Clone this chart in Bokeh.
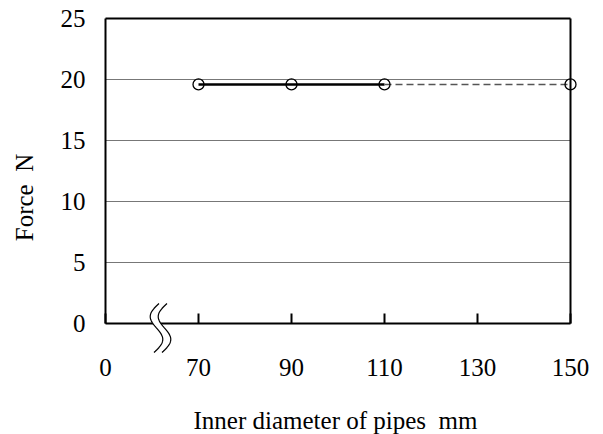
import numpy as np
from bokeh.plotting import figure
from bokeh.models import LinearAxis, FixedTicker, Range1d, Label
from bokeh.embed import file_html
from bokeh.resources import INLINE

# ---- data ----
diameters = [70, 90, 110, 150]
force = [19.6, 19.6, 19.6, 19.6]
x_tick_values = [50, 70, 90, 110, 130, 150]
x_tick_labels = ["0", "70", "90", "110", "130", "150"]
y_tick_values = [0, 5, 10, 15, 20, 25]
x_title = "Inner diameter of pipes\u00a0\u00a0mm"
y_title = "Force\u00a0\u00a0N"

FONT = "Liberation Serif"
FS = "25px"

# ---- layout (pixels) ----
W, H = 603, 434
L, R, T, B = 105, 570, 18, 323           # plot box
XMIN, XMAX, YMIN, YMAX = 50, 150, 0, 25
kx = (R - L) / (XMAX - XMIN)
ky = (B - T) / (YMAX - YMIN)
x0 = XMIN - L / kx
x1 = x0 + W / kx
y1 = YMAX + T / ky
y0 = y1 - H / ky

def dx(px):
    return x0 + px / kx

def dy(py):
    return y1 - py / ky

p = figure(width=W, height=H, output_backend="svg", toolbar_location=None,
           x_range=Range1d(x0, x1), y_range=Range1d(y0, y1),
           min_border=0, x_axis_location=None, y_axis_location=None)
p.outline_line_color = None
p.background_fill_color = "white"
p.border_fill_color = "white"
p.xgrid.visible = False
p.ygrid.visible = False

# horizontal grid lines inside the box
grid_vals = y_tick_values[1:-1]
gr = p.segment(x0=[XMIN] * len(grid_vals), x1=[XMAX] * len(grid_vals),
               y0=grid_vals, y1=grid_vals, line_color="#777777", line_width=1)
gr.level = "underlay"

# bottom axis
xa = LinearAxis(ticker=FixedTicker(ticks=x_tick_values), fixed_location=YMIN,
                bounds=(XMIN, XMAX),
                major_label_overrides={v: l for v, l in zip(x_tick_values, x_tick_labels)})
xa.axis_line_width = 2
xa.axis_line_color = "black"
xa.major_tick_in = 10
xa.major_tick_out = 0
xa.major_tick_line_width = 2
xa.minor_tick_line_color = None
xa.major_label_standoff = 35
xa.major_label_text_font = FONT
xa.major_label_text_font_size = FS
xa.major_label_text_color = "black"
p.add_layout(xa, "below")

# left axis
ya = LinearAxis(ticker=FixedTicker(ticks=y_tick_values), fixed_location=XMIN,
                bounds=(YMIN, YMAX))
ya.axis_line_width = 2
ya.axis_line_color = "black"
ya.major_tick_in = 0
ya.major_tick_out = 0
ya.minor_tick_line_color = None
ya.major_label_standoff = 20
ya.major_label_text_font = FONT
ya.major_label_text_font_size = FS
ya.major_label_text_color = "black"
p.add_layout(ya, "left")

# right & top frame lines
for loc, fl, bd in (("right", XMAX, (YMIN, YMAX)), ("above", YMAX, (XMIN, XMAX))):
    ax = LinearAxis(ticker=FixedTicker(ticks=[]), fixed_location=fl, bounds=bd)
    ax.axis_line_width = 2
    ax.axis_line_color = "black"
    ax.major_tick_line_color = None
    ax.minor_tick_line_color = None
    ax.major_label_text_font_size = "0px"
    ax.major_label_standoff = 0
    p.add_layout(ax, loc)

# data lines
p.line(diameters[:3], force[:3], line_color="black", line_width=2.5)
p.line(diameters[2:], force[2:], line_color="#555555", line_width=1.5, line_dash="7 4")
p.scatter(diameters, force, marker="circle", size=11, fill_color=None,
          line_color="black", line_width=1.3)

# axis break symbol (decoration)
t = np.linspace(0, 1, 40)
sy = 303 + 49 * t
sx = 156 - 7.5 * np.sin(2 * np.pi * t) + 5 * (0.5 - t)
bx1, by1 = list(dx(sx)), list(dy(sy))
bx2, by2 = list(dx(sx + 8)), list(dy(sy))
gap = p.patch(bx1 + bx2[::-1], by1 + by2[::-1], fill_color="white", line_color=None)
gap.level = "overlay"
for xs, ys in ((bx1, by1), (bx2, by2)):
    r = p.line(xs, ys, line_color="black", line_width=1.2)
    r.level = "overlay"

# titles
p.add_layout(Label(x=dx(24), y=dy(197), text=y_title, angle=np.pi / 2,
                   text_align="center", text_baseline="middle",
                   text_font=FONT, text_font_size=FS, text_color="black"))
p.add_layout(Label(x=dx(335), y=dy(420), text=x_title,
                   text_align="center", text_baseline="middle",
                   text_font=FONT, text_font_size=FS, text_color="black"))

open("out.html", "w").write(file_html(p, INLINE))
